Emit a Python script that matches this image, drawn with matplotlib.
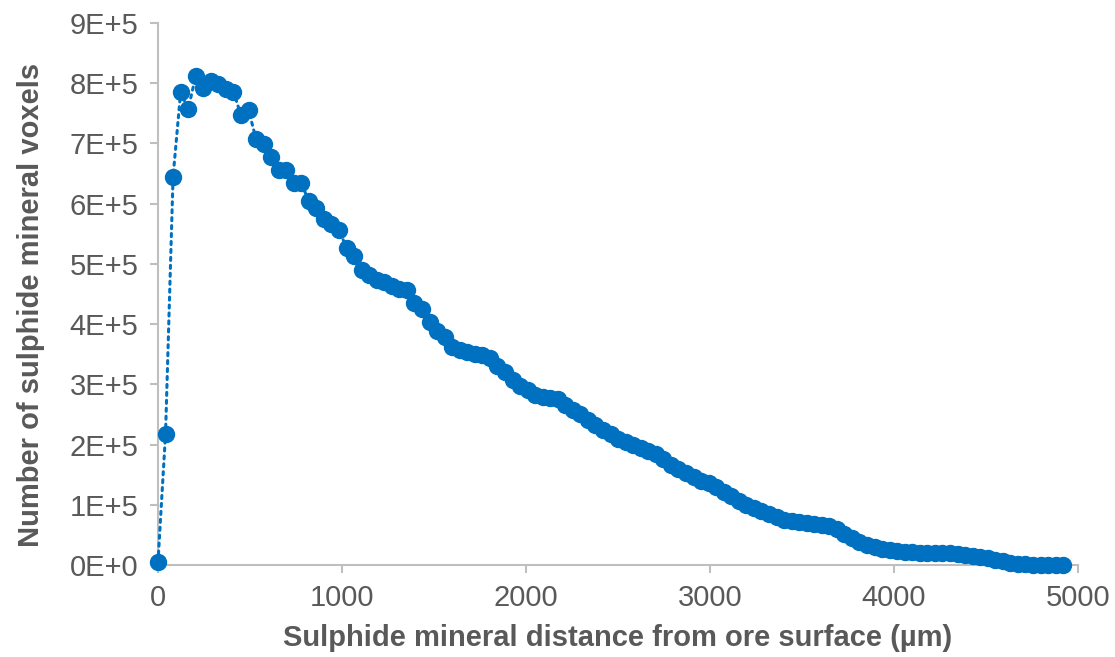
import matplotlib
matplotlib.use("Agg")
import matplotlib.pyplot as plt

# distance from ore surface (um) and voxel counts (thousands)
distance_um = [
    0, 41, 82, 123, 164, 205, 246, 287, 328, 369,
    410, 451, 492, 533, 574, 615, 656, 697, 738, 779,
    820, 861, 902, 943, 984, 1025, 1066, 1107, 1148, 1189,
    1230, 1271, 1312, 1353, 1394, 1435, 1476, 1517, 1558, 1599,
    1640, 1681, 1722, 1763, 1804, 1845, 1886, 1927, 1968, 2009,
    2050, 2091, 2132, 2173, 2214, 2255, 2296, 2337, 2378, 2419,
    2460, 2501, 2542, 2583, 2624, 2665, 2706, 2747, 2788, 2829,
    2870, 2911, 2952, 2993, 3034, 3075, 3116, 3157, 3198, 3239,
    3280, 3321, 3362, 3403, 3444, 3485, 3526, 3567, 3608, 3649,
    3690, 3731, 3772, 3813, 3854, 3895, 3936, 3977, 4018, 4059,
    4100, 4141, 4182, 4223, 4264, 4305, 4346, 4387, 4428, 4469,
    4510, 4551, 4592, 4633, 4674, 4715, 4756, 4797, 4838, 4879,
    4920,
]
voxels_k = [
    5, 218, 645, 785, 757, 812, 792, 804, 798, 790,
    786, 747, 756, 707, 699, 678, 656, 656, 635, 634,
    604, 593, 574, 567, 557, 526, 513, 490, 481, 474,
    470, 463, 458, 457, 435, 425, 404, 388, 378, 362,
    357, 353, 350, 349, 344, 330, 320, 308, 298, 290,
    283, 279, 277, 275, 265, 257, 250, 241, 233, 225,
    218, 210, 204, 199, 194, 189, 184, 176, 166, 159,
    153, 146, 140, 136, 129, 122, 114, 107, 100, 95,
    90, 85, 79, 75, 73, 71, 69, 68, 67, 64,
    59, 52, 45, 39, 33, 30, 27, 25, 23, 22,
    21, 20, 20, 20, 20, 20, 19, 17, 15, 14,
    11, 9, 7, 4, 2, 1, 0.5, 0.5, 0.5, 0.5,
    0.5,
]
voxels = [v * 1000 for v in voxels_k]

x_ticks = [0, 1000, 2000, 3000, 4000, 5000]
y_ticks = [0, 1e5, 2e5, 3e5, 4e5, 5e5, 6e5, 7e5, 8e5, 9e5]
y_tick_labels = ["0E+0", "1E+5", "2E+5", "3E+5", "4E+5", "5E+5", "6E+5", "7E+5", "8E+5", "9E+5"]

blue = "#0070C0"
grey = "#BFBFBF"
text_grey = "#595959"

plt.rcParams["font.family"] = ["Liberation Sans", "DejaVu Sans"]

fig = plt.figure(figsize=(11.15, 6.57), dpi=100)
ax = fig.add_axes([0.1417, 0.140, 0.825, 0.825])

ax.plot(distance_um, voxels, color=blue, linestyle=(0, (1, 1.6)), linewidth=2.2,
        marker="o", markersize=11.5, markerfacecolor=blue, markeredgecolor=blue,
        dash_capstyle="round", clip_on=False, zorder=3)

ax.set_xlim(0, 5000)
ax.set_ylim(0, 9e5)
ax.set_xticks(x_ticks)
ax.set_yticks(y_ticks)
ax.set_yticklabels(y_tick_labels)

for side in ["top", "right"]:
    ax.spines[side].set_visible(False)
for side in ["left", "bottom"]:
    ax.spines[side].set_color(grey)
    ax.spines[side].set_linewidth(1.5)

ax.tick_params(axis="both", colors=grey, labelcolor=text_grey, labelsize=21,
               length=6, width=1.5, pad=8)

ax.set_xlabel("Sulphide mineral distance from ore surface (µm)", fontsize=21,
              fontweight="bold", color=text_grey, labelpad=8)
ax.set_ylabel("Number of sulphide mineral voxels", fontsize=21,
              fontweight="bold", color=text_grey, labelpad=18, y=0.48)

fig.savefig("out.png", dpi=100)
plt.close(fig)
